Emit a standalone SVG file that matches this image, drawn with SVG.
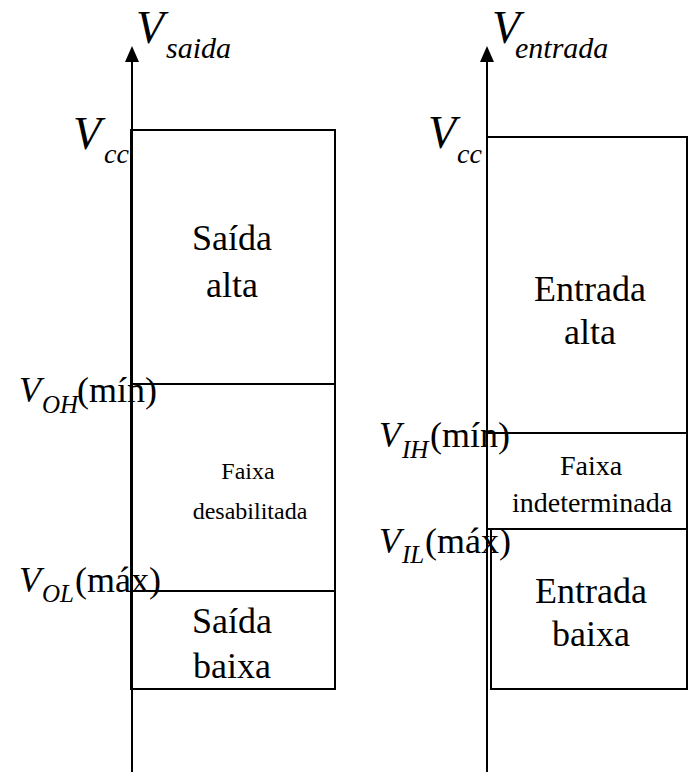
<svg xmlns="http://www.w3.org/2000/svg" width="688" height="772" viewBox="0 0 688 772">
  <style>
    .ln { fill: none; stroke: #000; stroke-width: 2; }
    .box { fill: none; stroke: #000; stroke-width: 2; }
    text { font-family: "Liberation Serif", "Times New Roman", serif; fill: #000; }
    .v { font-style: italic; }
    .big { font-size: 36px; text-anchor: middle; }
    .small { font-size: 28px; text-anchor: middle; }
    .tiny { font-size: 24px; text-anchor: middle; }
  </style>

  <!-- axes with arrowheads -->
  <g id="connectors">
    <line class="ln" x1="132" y1="772" x2="132" y2="50"/>
    <path d="M132 46 L139 62 L125 62 Z" fill="#000"/>
    <line class="ln" x1="487" y1="772" x2="487" y2="50"/>
    <path d="M487 46 L494 62 L480 62 Z" fill="#000"/>
  </g>

  <!-- output voltage column -->
  <g id="saida-alta">
    <rect class="box" x="131" y="130" width="204" height="254"/>
    <text class="big" x="232" y="250">Saída</text>
    <text class="big" x="232" y="297">alta</text>
  </g>
  <g id="faixa-desabilitada">
    <rect class="box" x="131" y="384" width="204" height="207"/>
    <text class="tiny" x="248" y="479">Faixa</text>
    <text class="tiny" x="250" y="519">desabilitada</text>
  </g>
  <g id="saida-baixa">
    <rect class="box" x="131" y="591" width="204" height="98"/>
    <text class="big" x="232" y="633">Saída</text>
    <text class="big" x="232" y="678">baixa</text>
  </g>

  <!-- input voltage column -->
  <g id="entrada-alta">
    <rect class="box" x="487" y="137" width="200" height="296"/>
    <text class="big" x="590" y="301">Entrada</text>
    <text class="big" x="590" y="344">alta</text>
  </g>
  <g id="faixa-indeterminada">
    <rect class="box" x="487" y="433" width="200" height="96"/>
    <text class="small" x="591" y="475">Faixa</text>
    <text class="small" x="592" y="512">indeterminada</text>
  </g>
  <g id="entrada-baixa">
    <rect class="box" x="491" y="529" width="196" height="160"/>
    <text class="big" x="591" y="603">Entrada</text>
    <text class="big" x="591" y="646">baixa</text>
  </g>

  <!-- axis and level labels -->
  <g id="label-vsaida">
    <text class="v" x="136" y="43" font-size="46">V</text>
    <text class="v" x="166" y="58" font-size="30">saida</text>
  </g>
  <g id="label-ventrada">
    <text class="v" x="492" y="43" font-size="46">V</text>
    <text class="v" x="515" y="58" font-size="30">entrada</text>
  </g>
  <g id="label-vcc-left">
    <text class="v" x="73" y="149" font-size="46">V</text>
    <text class="v" x="104" y="163" font-size="28">cc</text>
  </g>
  <g id="label-vcc-right">
    <text class="v" x="428" y="148" font-size="46">V</text>
    <text class="v" x="457" y="163" font-size="28">cc</text>
  </g>
  <g id="label-voh">
    <text class="v" x="19" y="402" font-size="36">V</text>
    <text class="v" x="42" y="413" font-size="25">OH</text>
    <text x="77" y="402" font-size="36">(mín)</text>
  </g>
  <g id="label-vol">
    <text class="v" x="19" y="592" font-size="36">V</text>
    <text class="v" x="42" y="602" font-size="25">OL</text>
    <text x="75" y="592" font-size="36">(máx)</text>
  </g>
  <g id="label-vih">
    <text class="v" x="379" y="447" font-size="36">V</text>
    <text class="v" x="402" y="458" font-size="25">IH</text>
    <text x="430" y="447" font-size="36">(mín)</text>
  </g>
  <g id="label-vil">
    <text class="v" x="379" y="553" font-size="36">V</text>
    <text class="v" x="402" y="563" font-size="25">IL</text>
    <text x="425" y="553" font-size="36">(máx)</text>
  </g>
</svg>
